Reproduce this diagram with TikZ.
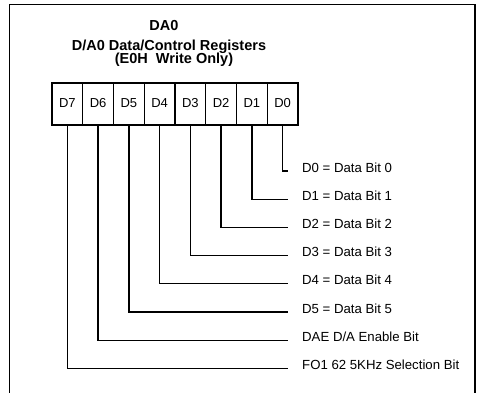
\documentclass[tikz,border=0pt]{standalone}
\usepackage{fontspec}
\setmainfont{Liberation Sans}
\begin{document}
\begin{tikzpicture}[x=1pt,y=-1pt,
  cell/.style={draw,line width=1.1pt,minimum width=30.75pt,minimum height=42pt,inner sep=0pt,outer sep=0pt,anchor=north west},
  celltext/.style={font=\fontsize{13}{13}\selectfont,anchor=base,inner sep=0pt},
  lbl/.style={font=\fontsize{13.2}{13}\selectfont,anchor=base west,inner sep=0pt},
  ttl/.style={font=\fontsize{14.5}{14}\bfseries\selectfont,anchor=base,inner sep=0pt},
  conn/.style={line width=1.3pt}]
\useasboundingbox (0,0) rectangle (481,392);
\clip (0,0) rectangle (481,392);
% frame
\draw[line width=1.3pt] (9.5,400) -- (9.5,4.5) -- (475,4.5) -- (475,400);
% title
\node[ttl] (t1) at (164,30) {DA0};
\node[ttl] (t2) at (169,50) {D/A0 Data/Control Registers};
\node[ttl] (t3) at (174,63) {(E0H\ \ Write Only)};
% register cells
\foreach \i/\n in {0/7,1/6,2/5,3/4,4/3,5/2,6/1,7/0}{
  \node[cell] (c\n) at ({52+30.75*\i},83) {};
  \node[celltext] (ct\n) at ({52+30.75*\i+15.375},107) {D\n};
}
% labels and connectors
\foreach \n/\k/\t in {0/0/{D0 = Data Bit 0},1/1/{D1 = Data Bit 1},2/2/{D2 = Data Bit 2},3/3/{D3 = Data Bit 3},4/4/{D4 = Data Bit 4},5/5/{D5 = Data Bit 5},6/6/{DAE D/A Enable Bit},7/7/{FO1 62 5KHz Selection Bit}}{
  \coordinate (e\n) at (288,{171+28.2*\k});
  \node[lbl] (l\n) at (302,{172+28.2*\k}) {\t};
  \draw[conn] (c\n.south) |- (e\n);
}
\end{tikzpicture}
\end{document}
